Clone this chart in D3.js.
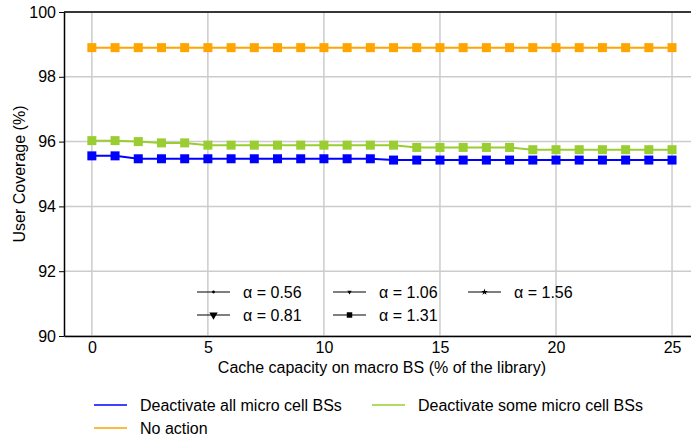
<!DOCTYPE html>
<html><head><meta charset="utf-8">
<script src="https://cdn.jsdelivr.net/npm/d3@7"></script>
<style>body{margin:0;background:#fff}svg{display:block;font-family:"Liberation Sans",Arial,sans-serif}</style>
</head><body><svg id="c" width="691" height="440"></svg>
<script>
const xValues = d3.range(0, 26);
const noAction = [98.9,98.9,98.9,98.9,98.9,98.9,98.9,98.9,98.9,98.9,98.9,98.9,98.9,98.9,98.9,98.9,98.9,98.9,98.9,98.9,98.9,98.9,98.9,98.9,98.9,98.9];
const deactSome = [96.03,96.03,96.0,95.96,95.96,95.89,95.89,95.89,95.89,95.89,95.89,95.89,95.89,95.89,95.82,95.82,95.82,95.82,95.82,95.75,95.75,95.75,95.75,95.75,95.75,95.75];
const deactAll = [95.56,95.56,95.47,95.47,95.47,95.47,95.47,95.47,95.47,95.47,95.47,95.47,95.47,95.43,95.43,95.43,95.43,95.43,95.43,95.43,95.43,95.43,95.43,95.43,95.43,95.43];
const xTicks = [0,5,10,15,20,25];
const yTicks = [90,92,94,96,98,100];
const alphaLabels = ["α = 0.56","α = 1.06","α = 1.56","α = 0.81","α = 1.31"];
const seriesNames = ["Deactivate all micro cell BSs","Deactivate some micro cell BSs","No action"];
const seriesColors = ["#0000ff","#9acd32","#ffa500"];

const FS = 16;
const svg = d3.select("#c");
const x = d3.scaleLinear().domain([-1.2, 25.8]).range([64, 690.6]);
const y = d3.scaleLinear().domain([90, 100]).range([336, 12]);

// grid
svg.append("g").selectAll("line").data(xTicks).join("line")
  .attr("x1", d=>x(d)).attr("x2", d=>x(d)).attr("y1", 12).attr("y2", 336)
  .attr("stroke", "#cccccc").attr("stroke-width", 1.5);
svg.append("g").selectAll("line").data(yTicks).join("line")
  .attr("x1", 64).attr("x2", 691).attr("y1", d=>y(d)).attr("y2", d=>y(d))
  .attr("stroke", "#cccccc").attr("stroke-width", 1.5);

// axes
const yAxis = svg.append("g").attr("transform","translate(64,0)")
  .call(d3.axisLeft(y).tickValues(yTicks).tickSize(5).tickSizeOuter(0).tickPadding(3));
yAxis.select(".domain").attr("stroke","#000").attr("stroke-width",1.5);
yAxis.selectAll("text").attr("font-size",FS).attr("fill","#000").attr("font-family","Liberation Sans, Arial, sans-serif");
const xAxis = svg.append("g").attr("transform","translate(0,336)")
  .call(d3.axisBottom(x).tickValues(xTicks).tickSize(0).tickSizeOuter(0).tickPadding(6));
xAxis.select(".domain").attr("stroke","#000").attr("stroke-width",1.5);
xAxis.selectAll("text").attr("font-size",FS).attr("fill","#000").attr("font-family","Liberation Sans, Arial, sans-serif");
svg.append("line").attr("x1",64).attr("x2",691).attr("y1",12).attr("y2",12).attr("stroke","#000").attr("stroke-width",1.5);

// labels
svg.append("text").attr("x", x(12.5)).attr("y", 373).attr("text-anchor","middle").attr("font-size",FS).text("Cache capacity on macro BS (% of the library)");
svg.append("text").attr("transform","translate(25,174) rotate(-90)").attr("text-anchor","middle").attr("font-size",FS).text("User Coverage (%)");

// series
const series = [deactAll, deactSome, noAction];
const line = d3.line().x((d,i)=>x(xValues[i])).y(d=>y(d));
series.forEach((s,k)=>{
  const g = svg.append("g");
  g.append("path").datum(s).attr("d", line).attr("fill","none").attr("stroke", seriesColors[k]).attr("stroke-width",2);
  g.selectAll("rect").data(s).join("rect")
    .attr("x",(d,i)=>x(xValues[i])-4.5).attr("y",d=>y(d)-4.5).attr("width",9).attr("height",9)
    .attr("fill", seriesColors[k]);
});

// inner alpha legend
const syms = [
  d3.symbol().type(d3.symbolCircle).size(6),
  d3.symbol().type(d3.symbolTriangle).size(8),
  d3.symbol().type(d3.symbolStar).size(14),
  d3.symbol().type(d3.symbolTriangle).size(30),
  d3.symbol().type(d3.symbolSquare).size(30)
];
const pos = [[197,292],[333,292],[468,292],[197,315],[333,315]];
const rot = [0,180,0,180,0];
alphaLabels.forEach((t,i)=>{
  const [lx,ly]=pos[i];
  svg.append("line").attr("x1",lx).attr("x2",lx+33).attr("y1",ly).attr("y2",ly).attr("stroke","#000").attr("stroke-width",1.2);
  svg.append("path").attr("d", syms[i]()).attr("transform",`translate(${lx+16.5},${ly}) rotate(${rot[i]})`).attr("fill","#000");
  svg.append("text").attr("x",lx+46).attr("y",ly+6).attr("font-size",FS).text(t);
});

// bottom legend
const lpos = [[94,405],[372,405],[94,428]];
seriesNames.forEach((t,i)=>{
  const [lx,ly]=lpos[i];
  svg.append("line").attr("x1",lx).attr("x2",lx+33).attr("y1",ly).attr("y2",ly).attr("stroke",seriesColors[i]).attr("stroke-width",1.5);
  svg.append("text").attr("x",lx+46).attr("y",ly+6).attr("font-size",FS).text(t);
});
</script></body></html>
